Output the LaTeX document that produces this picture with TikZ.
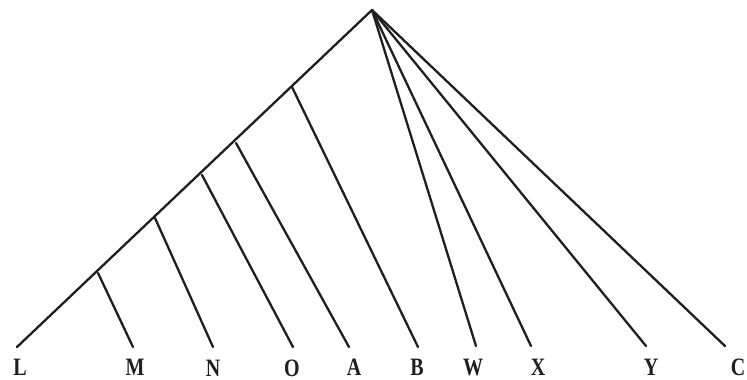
\documentclass[tikz,border=0pt]{standalone}
\usepackage{fontspec}
\setmainfont{Liberation Serif}
\begin{document}
\begin{tikzpicture}[x=1pt,y=-1pt,
  edge/.style={line width=2.3pt, line cap=round, line join=round, draw=black!88},
  lab/.style={font=\fontsize{25}{25}\selectfont\bfseries, inner sep=0pt, anchor=base, xscale=0.8, transform shape, text=black!88}]
\useasboundingbox (0,0) rectangle (747,380);
\coordinate (r) at (372,10);
\coordinate (l) at (17,347);
\coordinate (p1) at (98,273);
\coordinate (p2) at (155,218);
\coordinate (p3) at (202,175);
\coordinate (p4) at (236,143);
\coordinate (p5) at (292,87);
\coordinate (m) at (133,347);
\coordinate (n) at (213,347);
\coordinate (o) at (293,347);
\coordinate (a) at (349,347);
\coordinate (b) at (418,347);
\coordinate (w) at (476,346);
\coordinate (x) at (531,346);
\coordinate (y) at (646,346);
\coordinate (c) at (725,346);
\draw[edge] (l) -- (r);
\draw[edge] (p1) -- (m);
\draw[edge] (p2) -- (n);
\draw[edge] (p3) -- (o);
\draw[edge] (p4) -- (a);
\draw[edge] (p5) -- (b);
\draw[edge] (r) -- (w);
\draw[edge] (r) -- (x);
\draw[edge] (r) -- (y);
\draw[edge] (r) -- (c);
\node[lab] (tL) at (20,375.5) {L};
\node[lab] (tM) at (135,375.5) {M};
\node[lab] (tN) at (213,376) {N};
\node[lab] (tO) at (292,376) {O};
\node[lab] (tA) at (354,375) {A};
\node[lab] (tB) at (417,375) {B};
\node[lab] (tW) at (473,375) {W};
\node[lab] (tX) at (538,375) {X};
\node[lab] (tY) at (651,375) {Y};
\node[lab] (tC) at (738,375) {C};
\end{tikzpicture}
\end{document}
